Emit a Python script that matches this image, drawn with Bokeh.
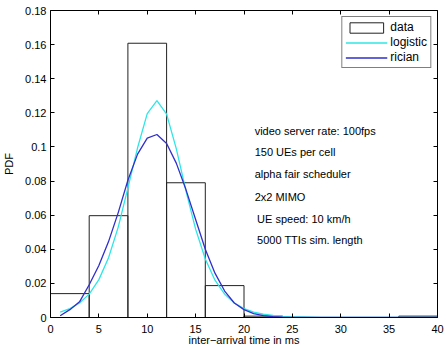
from bokeh.plotting import figure
from bokeh.models import (LinearAxis, FixedTicker, CustomJSTickFormatter,
                          Legend, LegendItem)
from bokeh.core.properties import value
from bokeh.embed import file_html
from bokeh.resources import INLINE

# Histogram of inter-arrival times (bin edges in ms, PDF heights)
bin_edges = [0, 4, 8, 12, 16, 20, 24, 28, 32, 36, 40]
pdf_data = [0.0140, 0.0597, 0.1608, 0.0790, 0.0187, 0.0008, 0.0, 0.0, 0.0, 0.0008]

# Fitted densities, evaluated at 1 ms steps
t_fit = list(range(1, 41))
pdf_logistic = [0.0031, 0.0052, 0.0085, 0.0137, 0.0222, 0.0350, 0.0530, 0.0760,
                0.0995, 0.1195, 0.1272, 0.1192, 0.0990, 0.0742, 0.0518, 0.0343,
                0.0219, 0.0137, 0.0085, 0.0052, 0.0031, 0.0019, 0.0012, 0.0007,
                0.0004, 0.0003, 0.0002, 0.0001, 0.0001, 0.0, 0.0, 0.0,
                0.0, 0.0, 0.0, 0.0, 0.0, 0.0, 0.0, 0.0]
pdf_rician = [0.0010, 0.0046, 0.0092, 0.0192, 0.0305, 0.0445, 0.0615, 0.0805,
              0.0958, 0.1052, 0.1073, 0.1020, 0.0905, 0.0750, 0.0575, 0.0400,
              0.0260, 0.0155, 0.0085, 0.0046, 0.0023, 0.0011, 0.0005, 0.0002,
              0.0001, 0.0, 0.0, 0.0, 0.0, 0.0, 0.0, 0.0,
              0.0, 0.0, 0.0, 0.0, 0.0, 0.0, 0.0, 0.0]

x_ticks = [0, 5, 10, 15, 20, 25, 30, 35, 40]
y_ticks = [0, 0.02, 0.04, 0.06, 0.08, 0.1, 0.12, 0.14, 0.16, 0.18]

notes = ["video server rate: 100fps", "150 UEs per cell", "alpha fair scheduler",
         "2x2 MIMO", "UE speed: 10 km/h", "5000 TTIs sim. length"]

FONT = "Liberation Sans"

p = figure(width=447, height=348, x_range=(0, 40), y_range=(0, 0.18),
           output_backend="svg", toolbar_location=None,
           min_border_left=47, min_border_right=10,
           min_border_top=10, min_border_bottom=30,
           x_axis_location=None, y_axis_location=None)
p.xgrid.visible = False
p.ygrid.visible = False
p.outline_line_color = None
p.background_fill_color = "white"
p.border_fill_color = "white"

def style_axis(ax, ticks, labelled):
    ax.ticker = FixedTicker(ticks=ticks)
    ax.axis_line_color = "black"
    ax.axis_line_width = 1
    ax.major_tick_in = 4
    ax.major_tick_out = 0
    ax.major_tick_line_color = "black"
    ax.minor_tick_line_color = None
    if labelled:
        ax.major_label_text_font = FONT
        ax.major_label_text_font_size = "11px"
        ax.major_label_text_color = "black"
        ax.axis_label_text_font = FONT
        ax.axis_label_text_font_size = "11px"
        ax.axis_label_text_font_style = "normal"
        ax.axis_label_text_color = "black"
    else:
        # mirrored box axis: ticks only, no labels
        ax.formatter = CustomJSTickFormatter(code="return '';")
        ax.major_label_standoff = 0

xb = LinearAxis(axis_label="inter\u2212arrival time in ms")
style_axis(xb, x_ticks, True)
xb.major_label_standoff = 7
xb.axis_label_standoff = -2
p.add_layout(xb, "below")

yl = LinearAxis(axis_label="PDF")
style_axis(yl, y_ticks, True)
yl.major_label_standoff = 4
yl.axis_label_standoff = 7
yl.formatter = CustomJSTickFormatter(code="return String(+tick.toFixed(4));")
p.add_layout(yl, "left")

xt = LinearAxis()
style_axis(xt, x_ticks, False)
p.add_layout(xt, "above")

yr = LinearAxis()
style_axis(yr, y_ticks, False)
p.add_layout(yr, "right")

bars = p.quad(left=bin_edges[:-1], right=bin_edges[1:], bottom=0, top=pdf_data,
              fill_color="white", fill_alpha=0.0, line_color="#222222", line_width=1)
l_log = p.line(t_fit, pdf_logistic, line_color="#2ee6e6", line_width=1.3)
l_ric = p.line(t_fit, pdf_rician, line_color="#2f2fcc", line_width=1.3)

# Simulation settings annotation
note_x = [21.1, 21.1, 21.1, 21.1, 21.35, 21.35]
note_y = [0.1091, 0.0968, 0.0844, 0.0705, 0.0578, 0.0457]
p.text(x=note_x, y=note_y, text=notes, text_font=value(FONT),
       text_font_size="11px", text_color="black",
       text_align="left", text_baseline="middle")

legend = Legend(items=[LegendItem(label="data", renderers=[bars]),
                       LegendItem(label="logistic", renderers=[l_log]),
                       LegendItem(label="rician", renderers=[l_ric])],
                location="top_right")
legend.label_text_font = FONT
legend.label_text_font_size = "12px"
legend.label_text_color = "black"
legend.border_line_color = "black"
legend.border_line_width = 1
legend.background_fill_color = "white"
legend.background_fill_alpha = 1.0
legend.glyph_width = 42
legend.glyph_height = 13
legend.label_height = 13
legend.label_standoff = 3
legend.spacing = 1
legend.padding = 3
legend.margin = 6
p.add_layout(legend, "center")

open("out.html", "w").write(file_html(p, INLINE))
